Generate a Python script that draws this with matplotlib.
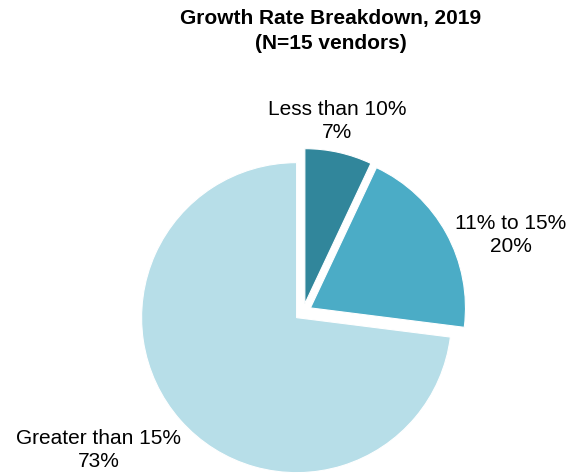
import matplotlib
matplotlib.use('Agg')
import matplotlib.pyplot as plt

plt.rcParams['font.family'] = ['Liberation Sans', 'DejaVu Sans']

categories = ['Less than 10%', '11% to 15%', 'Greater than 15%']
shares = [7, 20, 73]
colors = ['#31869B', '#4BACC6', '#B7DEE8']
title = 'Growth Rate Breakdown, 2019\n(N=15 vendors)'

# label anchors in pixels (x, y from top)
label_px = [(337, 121), (511, 235), (99, 450)]

W, H = 571, 473
cx, cy, R = 303, 312, 155

fig = plt.figure(figsize=(W / 100, H / 100), dpi=100)
ax = fig.add_axes([0, 0, 1, 1])
ax.pie(shares, colors=colors, startangle=90, counterclock=False,
       explode=[0.055] * 3, radius=1,
       wedgeprops=dict(linewidth=0.8, edgecolor='white'))
ax.set_xlim(-cx / R, (W - cx) / R)
ax.set_ylim(-(H - cy) / R, cy / R)
ax.axis('off')

for name, val, (px, py) in zip(categories, shares, label_px):
    ax.text((px - cx) / R, (cy - py) / R, '%s\n%d%%' % (name, val),
            ha='center', va='center', fontsize=15, linespacing=1.3)

fig.text(331 / W, 1 - 31 / H, title, ha='center', va='center',
         fontsize=15, fontweight='bold', linespacing=1.35)

fig.savefig('out.png', dpi=100)
